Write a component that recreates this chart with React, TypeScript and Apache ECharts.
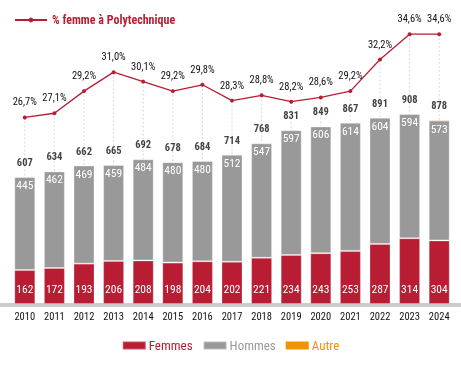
import React, { useEffect, useRef } from "react";
import * as echarts from "echarts";

const years = ["2010","2011","2012","2013","2014","2015","2016","2017","2018","2019","2020","2021","2022","2023","2024"];
const femmes = [162,172,193,206,208,198,204,202,221,234,243,253,287,314,304];
const hommes = [445,462,469,459,484,480,480,512,547,597,606,614,604,594,573];
const autre = [0,0,0,0,0,0,0,0,0,0,0,0,0,0,1];
const totals = [607,634,662,665,692,678,684,714,768,831,849,867,891,908,878];
const pctFemmes = [26.7,27.1,29.2,31.0,30.1,29.2,29.8,28.3,28.8,28.2,28.6,29.2,32.2,34.6,34.6];

const RED = "#B81D33";
const GRAY = "#999999";
const ORANGE = "#F39200";
const FONT = "'Roboto Condensed', sans-serif";

const BAR_MAX = 1310;
const PCT_MIN = 9;
const PCT_MAX = 35;

export default function App() {
  const ref = useRef<HTMLDivElement>(null);
  useEffect(() => {
    if (!ref.current) return;
    const chart = echarts.init(ref.current, undefined, { renderer: "svg" });
    const guideData = years.map((_, i) => [i, totals[i], pctFemmes[i]]);
    chart.setOption({
      animation: false,
      textStyle: { fontFamily: FONT },
      grid: { left: 10, right: 7, top: 30, bottom: 65 },
      legend: [
        {
          data: [{ name: "% femme à Polytechnique", itemStyle: { color: RED } }],
          left: 9,
          top: 9,
          itemWidth: 32,
          itemHeight: 6,
          itemGap: 4,
          textStyle: { color: RED, fontWeight: "bold", fontSize: 12, fontFamily: FONT },
        },
        {
          data: [
            { name: "Femmes", textStyle: { color: RED } },
            { name: "Hommes", textStyle: { color: GRAY } },
            { name: "Autre", textStyle: { color: ORANGE } },
          ],
          bottom: 12,
          left: "center",
          itemWidth: 23,
          itemHeight: 8,
          itemGap: 10,
          icon: "rect",
          textStyle: { fontSize: 13, fontFamily: FONT, padding: [0, 0, 0, -2] },
        },
      ],
      xAxis: {
        type: "category",
        data: years,
        axisLine: { show: false },
        axisTick: { show: false },
        axisLabel: { color: "#111", fontSize: 10.5, margin: 7, fontFamily: FONT, interval: 0 },
      },
      yAxis: [
        { type: "value", min: 0, max: BAR_MAX, show: false, splitLine: { show: false } },
        { type: "value", min: PCT_MIN, max: PCT_MAX, show: false, splitLine: { show: false } },
      ],
      graphic: [
        { type: "rect", left: 0, top: 303, shape: { width: 461, height: 4 }, style: { fill: "#cccccc" }, z: 1 },
      ],
      series: [
        {
          type: "custom",
          name: "guides",
          yAxisIndex: 0,
          z: 0,
          silent: true,
          data: guideData,
          renderItem: (params: any, api: any) => {
            const i = api.value(0);
            const total = api.value(1);
            const pct = api.value(2);
            const pctInBar = ((pct - PCT_MIN) / (PCT_MAX - PCT_MIN)) * BAR_MAX;
            const p1 = api.coord([i, pctInBar]);
            const p2 = api.coord([i, total]);
            return {
              type: "line",
              shape: { x1: p1[0], y1: p1[1], x2: p2[0], y2: p2[1] },
              style: { stroke: "#d8d8d8", lineWidth: 1, lineDash: [2, 2] },
            };
          },
        },
        {
          name: "Femmes",
          type: "bar",
          stack: "t",
          barWidth: 21,
          data: femmes,
          itemStyle: { color: RED, borderColor: "rgba(255,255,255,0.25)", borderWidth: 1 },
          label: {
            show: true,
            position: "insideBottom",
            distance: 9,
            color: "#fff",
            fontSize: 11.5,
            fontFamily: FONT,
          },
          z: 2,
        },
        {
          name: "Hommes",
          type: "bar",
          stack: "t",
          barWidth: 21,
          data: hommes,
          itemStyle: { color: GRAY, borderColor: "rgba(255,255,255,0.35)", borderWidth: 1 },
          label: {
            show: true,
            position: "insideTop",
            distance: 2,
            color: "#fff",
            fontSize: 11.5,
            fontFamily: FONT,
          },
          z: 2,
        },
        {
          name: "Autre",
          type: "bar",
          stack: "t",
          barWidth: 21,
          data: autre,
          itemStyle: { color: ORANGE },
          z: 2,
        },
        {
          name: "totals",
          type: "scatter",
          yAxisIndex: 0,
          data: totals,
          symbolSize: 0,
          silent: true,
          label: {
            show: true,
            position: "top",
            distance: 9,
            color: "#111",
            fontWeight: "bold",
            fontSize: 10.5,
            fontFamily: FONT,
          },
          z: 3,
        },
        {
          name: "% femme à Polytechnique",
          type: "line",
          yAxisIndex: 1,
          data: pctFemmes,
          symbol: "circle",
          symbolSize: 4,
          lineStyle: { color: RED, width: 1.3 },
          itemStyle: { color: RED },
          label: {
            show: true,
            position: "top",
            distance: 8,
            color: "#111",
            fontSize: 10.5,
            fontFamily: FONT,
            formatter: (p: any) => p.value.toFixed(1).replace(".", ",") + "%",
          },
          z: 4,
        },
      ],
    });
    return () => chart.dispose();
  }, []);
  return <div ref={ref} style={{ width: 461, height: 369, position: "fixed", left: 0, top: 0 }} />;
}
